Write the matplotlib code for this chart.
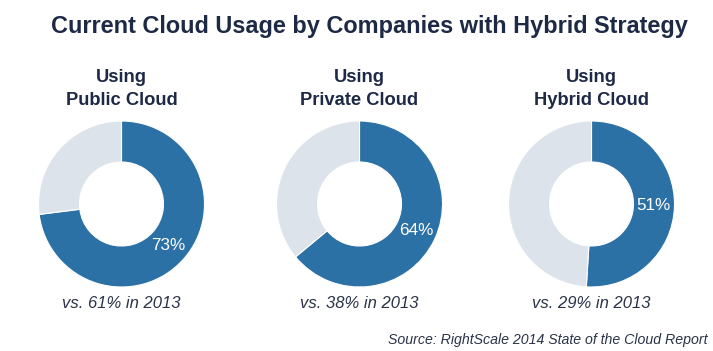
import matplotlib
matplotlib.use("Agg")
import matplotlib.pyplot as plt

title = "Current Cloud Usage by Companies with Hybrid Strategy"
categories = ["Using\nPublic Cloud", "Using\nPrivate Cloud", "Using\nHybrid Cloud"]
values_2014 = [73, 64, 51]
values_2013 = [61, 38, 29]
source = "Source: RightScale 2014 State of the Cloud Report"

BLUE = "#2c71a5"
GREY = "#dde3ea"
NAVY = "#1e2a45"
TEXTC = "#2a3347"

W, H = 713, 351
fig = plt.figure(figsize=(W / 100, H / 100), dpi=100)
plt.rcParams['font.family'] = ['Liberation Sans', 'DejaVu Sans']

centers_x = [121.5, 359.5, 591.5]
cy = 204
R = 83
box = 180

for cx, cat, v, v13 in zip(centers_x, categories, values_2014, values_2013):
    ax = fig.add_axes([(cx - box / 2) / W, (H - cy - box / 2) / H, box / W, box / H])
    wedges, texts, autotexts = ax.pie(
        [v, 100 - v], colors=[BLUE, GREY], startangle=90, counterclock=False,
        radius=R / (box / 2), wedgeprops=dict(width=41 / (box / 2), linewidth=0.8, edgecolor="white"),
        autopct=lambda p: "%d%%" % round(p) if p > 50 - 1e-9 and abs(p - v) < 0.5 else "",
        pctdistance=0.75,
        textprops=dict(color="white", fontsize=12.3))
    ax.set_xlim(-1, 1)
    ax.set_ylim(-1, 1)
    ax.set_aspect("equal")
    ax.axis("off")
    fig.text(cx / W, 1 - 89 / H, cat, ha="center", va="center", fontsize=13.2,
             fontweight="bold", color=NAVY, linespacing=1.4)
    fig.text(cx / W, 1 - 303 / H, "vs. %d%% in 2013" % v13, ha="center", va="center",
             fontsize=12, style="italic", color=TEXTC)

fig.text(369 / W, 1 - 27 / H, title, ha="center", va="center", fontsize=16.9,
         fontweight="bold", color=NAVY)
fig.text(707 / W, 1 - 340 / H, source, ha="right", va="center", fontsize=10.2,
         style="italic", color=TEXTC)

fig.savefig("out.png", dpi=100, facecolor="white")
